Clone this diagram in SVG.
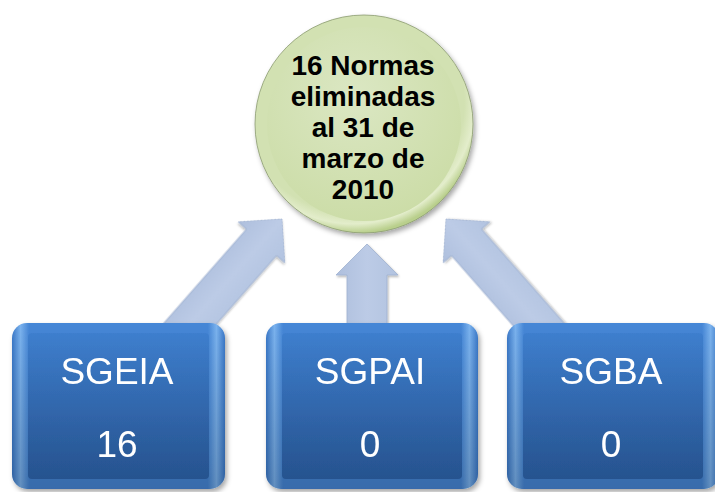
<svg xmlns="http://www.w3.org/2000/svg" width="715" height="492" viewBox="0 0 715 492">
<defs>
  <filter id="shadow" x="-20%" y="-20%" width="140%" height="140%">
    <feDropShadow dx="2" dy="3" stdDeviation="2.5" flood-color="#000" flood-opacity="0.35"/>
  </filter>
  <filter id="ashadow" x="-20%" y="-20%" width="140%" height="140%">
    <feDropShadow dx="1" dy="1.5" stdDeviation="1.2" flood-color="#000" flood-opacity="0.3"/>
  </filter>
  <radialGradient id="circRim" cx="0.45" cy="0.4" r="0.6">
    <stop offset="0.85" stop-color="#d2e1b2"/>
    <stop offset="0.93" stop-color="#e3edcb"/>
    <stop offset="1" stop-color="#b9cf8c"/>
  </radialGradient>
  <radialGradient id="circIn" cx="0.45" cy="0.35" r="0.7">
    <stop offset="0" stop-color="#dbe7c3"/>
    <stop offset="1" stop-color="#cbdca6"/>
  </radialGradient>
  <linearGradient id="boxEdge" x1="0" y1="0" x2="1" y2="0">
    <stop offset="0" stop-color="#3a78c8"/>
    <stop offset="0.04" stop-color="#7ab2ee"/>
    <stop offset="0.08" stop-color="#4586d6"/>
    <stop offset="0.92" stop-color="#4586d6"/>
    <stop offset="0.96" stop-color="#7ab2ee"/>
    <stop offset="1" stop-color="#3a78c8"/>
  </linearGradient>
  <linearGradient id="boxIn" x1="0" y1="0" x2="0" y2="1">
    <stop offset="0" stop-color="#3f80d0"/>
    <stop offset="1" stop-color="#2f66b0"/>
  </linearGradient>
  <linearGradient id="boxShade" x1="0" y1="0" x2="0" y2="1">
    <stop offset="0" stop-color="#000" stop-opacity="0"/>
    <stop offset="1" stop-color="#000" stop-opacity="0.2"/>
  </linearGradient>
  <linearGradient id="arrowFill" x1="0" y1="0" x2="1" y2="0">
    <stop offset="0" stop-color="#aebfdd"/>
    <stop offset="0.5" stop-color="#bccbe6"/>
    <stop offset="1" stop-color="#b2c3e0"/>
  </linearGradient>
</defs>
<style>
  .arrow { fill: url(#arrowFill); stroke: #9fb1d1; stroke-width: 0.8; filter: url(#ashadow); }
  .box { filter: url(#shadow); }
  .boxtxt { font-family: "Liberation Sans", Arial, sans-serif; font-size: 37px; fill: #ffffff; text-anchor: middle; }
  .circtxt { font-family: "Liberation Sans", Arial, sans-serif; font-size: 28px; font-weight: bold; fill: #000000; text-anchor: middle; }
</style>

<g id="connectors">
  <polygon class="arrow" transform="translate(282,219) rotate(41.3)" points="0,0 31,31 20,31 20,165 -20,165 -20,31 -31,31"/>
  <polygon class="arrow" transform="translate(367,244)" points="0,0 31,31 20,31 20,96 -20,96 -20,31 -31,31"/>
  <polygon class="arrow" transform="translate(446,219) rotate(-41.3)" points="0,0 31,31 20,31 20,165 -20,165 -20,31 -31,31"/>
</g>

<g id="node-center">
  <circle cx="364" cy="124" r="109" fill="url(#circRim)" stroke="#8a9a70" stroke-width="0.8" filter="url(#shadow)"/>
  <circle cx="364" cy="124" r="97" fill="url(#circIn)"/>
  <text class="circtxt" x="363" y="75">16 Normas</text>
  <text class="circtxt" x="363" y="106">eliminadas</text>
  <text class="circtxt" x="363" y="137">al 31 de</text>
  <text class="circtxt" x="363" y="168">marzo de</text>
  <text class="circtxt" x="363" y="199">2010</text>
</g>

<g id="node-sgeia" class="box">
  <rect x="12" y="323" width="213" height="166" rx="15" fill="url(#boxEdge)"/>
  <rect x="28" y="333" width="181" height="146" rx="4" fill="url(#boxIn)"/>
  <rect x="12" y="323" width="213" height="166" rx="15" fill="url(#boxShade)"/>
  <text class="boxtxt" x="117" y="384">SGEIA</text>
  <text class="boxtxt" x="117" y="457">16</text>
</g>

<g id="node-sgpai" class="box">
  <rect x="266" y="323" width="212" height="166" rx="15" fill="url(#boxEdge)"/>
  <rect x="282" y="333" width="180" height="146" rx="4" fill="url(#boxIn)"/>
  <rect x="266" y="323" width="212" height="166" rx="15" fill="url(#boxShade)"/>
  <text class="boxtxt" x="370" y="384">SGPAI</text>
  <text class="boxtxt" x="370" y="457">0</text>
</g>

<g id="node-sgba" class="box">
  <rect x="507" y="323" width="212" height="166" rx="15" fill="url(#boxEdge)"/>
  <rect x="523" y="333" width="180" height="146" rx="4" fill="url(#boxIn)"/>
  <rect x="507" y="323" width="212" height="166" rx="15" fill="url(#boxShade)"/>
  <text class="boxtxt" x="611" y="384">SGBA</text>
  <text class="boxtxt" x="611" y="457">0</text>
</g>
</svg>
